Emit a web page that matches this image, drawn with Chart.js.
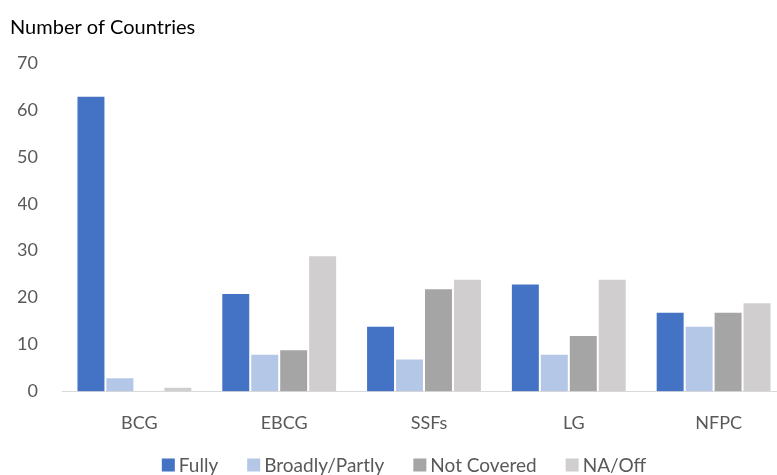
<!DOCTYPE html>
<html>
<head>
<meta charset="utf-8">
<script src="https://cdn.jsdelivr.net/npm/chart.js@4/dist/chart.umd.min.js"></script>
<style>
  html, body { margin: 0; padding: 0; background: #ffffff; overflow: hidden; }
  #wrap { width: 777px; height: 475px; overflow: hidden; }
  canvas { display: block; }
</style>
</head>
<body>
<div id="wrap"><canvas id="chart" width="786" height="475"></canvas></div>
<script>
// Coverage by category, counted in number of countries
const categories = ['BCG', 'EBCG', 'SSFs', 'LG', 'NFPC'];
const fully = [63, 21, 14, 23, 17];
const broadlyPartly = [3, 8, 7, 8, 14];
const notCovered = [0, 9, 22, 12, 17];
const naOff = [1, 29, 24, 24, 19];
const yTicks = [0, 10, 20, 30, 40, 50, 60, 70];
const axisTitle = 'Number of Countries';

const FONT = "Lato, 'Open Sans', 'Liberation Sans', sans-serif";
const TEXT_GREY = '#595959';

function series(label, data, color) {
  return {
    label, data,
    backgroundColor: color,
    borderColor: '#ffffff',
    borderWidth: 1,
    borderSkipped: 'bottom',
    barPercentage: 1.0,
    categoryPercentage: 0.80
  };
}

// Axis caption above the value axis and a bottom legend row with custom spacing
const annotations = {
  id: 'annotations',
  afterDraw(chart) {
    const ctx = chart.ctx;
    ctx.save();
    ctx.textBaseline = 'middle';
    ctx.textAlign = 'left';
    ctx.fillStyle = '#000000';
    ctx.font = `20px ${FONT}`;
    ctx.fillText(axisTitle, 10, 28);

    ctx.font = `19px ${FONT}`;
    const box = 13, textGap = 4, itemGap = 29;
    const items = chart.data.datasets.map(ds => ({
      label: ds.label, color: ds.backgroundColor,
      w: box + textGap + ctx.measureText(ds.label).width
    }));
    const total = items.reduce((s, it) => s + it.w, 0) + itemGap * (items.length - 1);
    let x = 404 - total / 2;
    const y = 465;
    items.forEach(it => {
      ctx.fillStyle = it.color;
      ctx.fillRect(x, y - box / 2, box, box);
      ctx.fillStyle = TEXT_GREY;
      ctx.fillText(it.label, x + box + textGap, y + 1);
      x += it.w + itemGap;
    });
    ctx.restore();
  }
};

new Chart(document.getElementById('chart'), {
  type: 'bar',
  data: {
    labels: categories,
    datasets: [
      series('Fully', fully, '#4472C4'),
      series('Broadly/Partly', broadlyPartly, '#B4C7E7'),
      series('Not Covered', notCovered, '#A5A5A5'),
      series('NA/Off', naOff, '#D0CECE')
    ]
  },
  plugins: [annotations],
  options: {
    responsive: false,
    animation: false,
    devicePixelRatio: 1,
    layout: { padding: { left: 18, right: 0, top: 63, bottom: 20 } },
    plugins: {
      title: { display: false },
      legend: { display: false },
      tooltip: { enabled: false }
    },
    scales: {
      x: {
        grid: { display: false, drawTicks: false },
        border: { display: true, color: '#D9D9D9', width: 1 },
        ticks: { color: TEXT_GREY, font: { family: FONT, size: 18 }, padding: 21, labelOffset: 5 }
      },
      y: {
        min: 0,
        max: 70,
        afterBuildTicks: axis => { axis.ticks = yTicks.map(v => ({ value: v })); },
        afterFit: axis => { axis.width = 44; },
        grid: { display: false, drawTicks: false },
        border: { display: false },
        ticks: { color: TEXT_GREY, font: { family: FONT, size: 18 }, padding: 24 }
      }
    }
  }
});
</script>
</body>
</html>
